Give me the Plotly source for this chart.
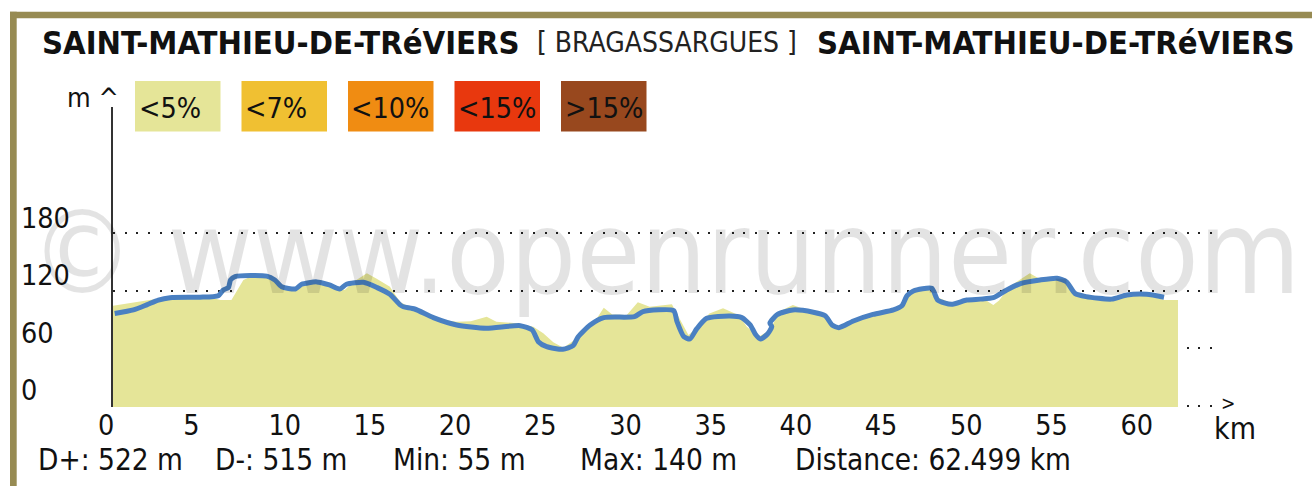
import plotly.graph_objects as go

# ---------------- data ----------------
fill_km = [0, 0.7, 1.4, 2.2, 2.8, 3.4, 4.0, 4.6, 5.3, 5.9, 6.3, 6.95, 7.65, 8.2, 9.0, 9.6,
           10.2, 10.9, 11.95, 12.9, 13.6, 14.1, 14.9, 15.5, 16.25, 16.85, 17.5, 18.2, 18.9,
           19.5, 20.17, 21.0, 21.93, 22.5, 23.7, 24.67, 25.25, 25.84, 26.43, 27.2, 27.8,
           28.4, 28.8, 29.3, 30.15, 30.8, 31.5, 32.8, 33.3, 33.77, 34.2, 35.0, 35.8, 36.7,
           37.2, 37.9, 38.56, 39.1, 39.9, 40.7, 41.7, 42.3, 42.7, 43.45, 44.6, 45.9, 46.3,
           46.8, 47.8, 48.3, 49.2, 49.7, 50.5, 50.9, 51.66, 52.0, 52.6, 53.8, 54.5, 55.4,
           55.96, 56.5, 57.5, 58.6, 59.5, 60.66, 61.7, 62.499]
fill_elev = [104, 106, 108, 111, 112, 113, 112.5, 113.5, 112.5, 112, 110, 110, 131, 135.5, 135.5, 129,
             122, 123, 131, 125, 120.5, 129, 138, 132, 124, 108, 102, 98, 92.7,
             89, 87.5, 88, 92.7, 87.5, 85.8, 82.3, 75.4, 66, 60.3, 70, 80.6,
             91, 102, 95, 94.5, 107.7, 103, 105.6, 89, 73.6, 80, 96, 101.4, 94.5,
             82.3, 71.8, 78.8, 98, 105, 99.7, 95, 82.3, 80, 89, 95, 101, 105,
             117, 122.3, 113.6, 107, 110, 112.5, 113.6, 105, 109.5, 124, 138, 131, 134,
             127, 115.3, 112, 110, 114.5, 115, 110, 110]

route_km = [0.1, 1.2, 1.98, 2.66, 3.35, 5.1, 6.18, 6.47, 6.77, 6.9, 7.16, 9.02, 9.5, 9.9,
            10.7, 11.07, 11.95, 12.7, 13.3, 13.7, 14.7, 15.5, 16.25, 16.85, 17.04, 17.7,
            18.8, 20.17, 21.9, 23.9, 24.6, 24.96, 25.45, 26.4, 27.0, 27.3, 28.0, 28.8,
            30.6, 31.1, 32.9, 33.1, 33.5, 33.86, 34.25, 34.84, 36.2, 36.9, 37.4, 37.7,
            38.0, 38.4, 38.66, 38.55, 39.0, 39.9, 41.1, 41.8, 42.2, 42.6, 43.45, 44.6,
            45.8, 46.3, 46.6, 46.97, 48.05, 48.4, 49.2, 50.1, 50.9, 51.66, 52.45, 53.3,
            54.4, 55.4, 55.96, 56.45, 57.1, 58.6, 59.5, 60.66, 61.68]
route_elev = [96, 99.7, 105, 110, 112.5, 113, 114.6, 120.5, 123, 131, 134.5, 135, 131, 124,
              121.6, 126.5, 129, 125.8, 121.6, 126.5, 128.6, 123, 116, 105, 103, 100.7,
              91.7, 84, 80.6, 83.3, 78.8, 66.6, 61.4, 58.6, 62.4, 71.8, 84, 91.7,
              92.7, 98, 99, 87.5, 71.8, 69.4, 79.9, 91, 93.4, 91.7, 84, 74.3,
              69.4, 74.3, 82.3, 86, 95, 99.7, 97.3, 93.7, 84, 81.2, 88.2, 95,
              99.7, 104, 114.6, 119.5, 122.3, 110, 105.6, 110, 111, 112.5, 120.6, 127.5,
              131, 132.8, 129, 117, 113.6, 111, 115.3, 116, 113]

x_ticks = [0, 5, 10, 15, 20, 25, 30, 35, 40, 45, 50, 55, 60]
x_ticktext = [str(v) for v in x_ticks]
y_ticks = [0, 60, 120, 180]
y_ticktext = [str(v) for v in y_ticks]

start_name = "SAINT-MATHIEU-DE-TRéVIERS"
via_name = "[ BRAGASSARGUES ]"
end_name = "SAINT-MATHIEU-DE-TRéVIERS"
slope_labels = ["<5%", "<7%", "<10%", "<15%", ">15%"]
slope_colors = ["#e5e598", "#f0c032", "#f08c12", "#e8380e", "#98481e"]
stats = ["D+: 522 m", "D-: 515 m", "Min: 55 m", "Max: 140 m", "Distance: 62.499 km"]

# ---------------- layout helpers ----------------
W, H = 1312, 486
FONT = "DejaVu Sans Condensed, DejaVu Sans, sans-serif"


def px(X):
    return X / W


def py(Y):
    return 1 - Y / H


PX_PER_KM = 17.04
PX_PER_M = 172.5 / 180
X0, X1 = 113, 1222          # plot area in pixels
Y_ZERO, Y1 = 405.5, 107     # pixel row of 0 m, top of plot area
Y_PAD = 1.6                 # metres of room below 0 so the 0 grid line shows
Y0 = Y_ZERO + Y_PAD * PX_PER_M
x_range = [0, (X1 - X0) / PX_PER_KM]
y_range = [-Y_PAD, (Y_ZERO - Y1) / PX_PER_M]

fig = go.Figure()
# baseline at the bottom of the plot area so the fill hides the 0 grid line under it
fig.add_trace(go.Scatter(x=[fill_km[0], fill_km[-1]], y=[y_range[0], y_range[0]],
                         mode="lines", line=dict(width=0), hoverinfo="skip",
                         showlegend=False))
fig.add_trace(go.Scatter(x=fill_km, y=fill_elev, mode="lines", fill="tonexty",
                         fillcolor=slope_colors[0], line=dict(width=0),
                         hoverinfo="skip", showlegend=False))
fig.add_trace(go.Scatter(x=route_km, y=route_elev, mode="lines",
                         line=dict(color="#4a80c2", width=5, shape="spline", smoothing=0.6),
                         hoverinfo="skip", showlegend=False))
# invisible helper trace so the label axis exists
fig.add_trace(go.Scatter(x=fill_km, y=fill_elev, yaxis="y2", mode="lines",
                         line=dict(width=0), opacity=0, hoverinfo="skip", showlegend=False))

tickfont = dict(family=FONT, size=28.5, color="#111")

fig.update_layout(
    width=W, height=H,
    margin=dict(l=0, r=0, t=0, b=0),
    paper_bgcolor="white", plot_bgcolor="rgba(0,0,0,0)",
    showlegend=False,
    xaxis=dict(domain=[px(X0), px(X1)], range=x_range, showgrid=False, zeroline=False,
               showline=False, ticks="", tickvals=x_ticks, ticktext=x_ticktext,
               tickfont=tickfont, ticklabelposition="outside right",
               ticklabelshift=-15, ticklabelstandoff=-2, automargin=False,
               fixedrange=True),
    yaxis=dict(domain=[py(Y0), py(Y1)], range=y_range, tickvals=y_ticks,
               showticklabels=False, showgrid=True, gridcolor="#222", gridwidth=2,
               griddash="2px,9.67px", zeroline=False, showline=True, linecolor="#333",
               linewidth=2, ticks="", automargin=False, fixedrange=True),
    yaxis2=dict(overlaying="y", anchor="free", position=px(20), side="right",
                range=y_range, tickvals=y_ticks, ticktext=y_ticktext, tickfont=tickfont,
                showgrid=False, zeroline=False, showline=False, ticks="",
                ticklabelshift=-15, automargin=False, fixedrange=True),
)

shapes = []
# frame
frame_col = "#978b53"
shapes.append(dict(type="rect", xref="paper", yref="paper", x0=px(10), x1=px(1312),
                   y0=py(18.3), y1=py(11.7), fillcolor=frame_col, line=dict(width=0),
                   layer="above"))
shapes.append(dict(type="rect", xref="paper", yref="paper", x0=px(10), x1=px(16.7),
                   y0=py(486), y1=py(11.7), fillcolor=frame_col, line=dict(width=0),
                   layer="above"))
annotations = []
# slope legend boxes
for i, (lab, col) in enumerate(zip(slope_labels, slope_colors)):
    bx = 135 + i * 106.5
    shapes.append(dict(type="rect", xref="paper", yref="paper", x0=px(bx), x1=px(bx + 85.5),
                       y0=py(131.5), y1=py(81), fillcolor=col, line=dict(width=0),
                       layer="above"))
    annotations.append(dict(text=lab, xref="paper", yref="paper", x=px(bx + 1.5), y=py(108.5),
                            xanchor="left", yanchor="middle", showarrow=False,
                            font=dict(family=FONT, size=28.5, color="#111")))

# watermark
annotations.append(dict(text="© www.openrunner.com", xref="paper", yref="paper",
                        x=px(665), y=py(252), xanchor="center", yanchor="middle",
                        showarrow=False,
                        font=dict(family=FONT, size=116, color="rgba(0,0,0,0.11)")))

# title row
annotations.append(dict(text=start_name, xref="paper", yref="paper", x=px(40), y=py(42.5),
                        xanchor="left", yanchor="middle", showarrow=False,
                        font=dict(family=FONT, size=32.5, color="#111", weight="bold")))
annotations.append(dict(text=via_name, xref="paper", yref="paper", x=px(535), y=py(43),
                        xanchor="left", yanchor="middle", showarrow=False,
                        font=dict(family=FONT, size=28, color="#222")))
annotations.append(dict(text=end_name, xref="paper", yref="paper", x=px(815), y=py(42.5),
                        xanchor="left", yanchor="middle", showarrow=False,
                        font=dict(family=FONT, size=32.5, color="#111", weight="bold")))

# axis unit markers
annotations.append(dict(text="m ^", xref="paper", yref="paper", x=px(121), y=py(97),
                        xanchor="right", yanchor="middle", showarrow=False,
                        font=dict(family=FONT, size=27, color="#111")))
annotations.append(dict(text=">", xref="paper", yref="paper", x=px(1228), y=py(403),
                        xanchor="center", yanchor="middle", showarrow=False,
                        font=dict(family=FONT, size=19, color="#111")))
annotations.append(dict(text="km", xref="paper", yref="paper", x=px(1235), y=py(428),
                        xanchor="center", yanchor="middle", showarrow=False,
                        font=dict(family=FONT, size=30, color="#111")))

# stats row
stat_x = [36, 213, 391, 578, 793]
for sx, s in zip(stat_x, stats):
    annotations.append(dict(text=s, xref="paper", yref="paper", x=px(sx), y=py(460),
                            xanchor="left", yanchor="middle", showarrow=False,
                            font=dict(family=FONT, size=29.5, color="#111")))

fig.update_layout(shapes=shapes, annotations=annotations)
fig.write_html("out.html", config={"displayModeBar": False, "staticPlot": True},
               post_script="document.body.style.margin='0';document.body.style.overflow='hidden';")
